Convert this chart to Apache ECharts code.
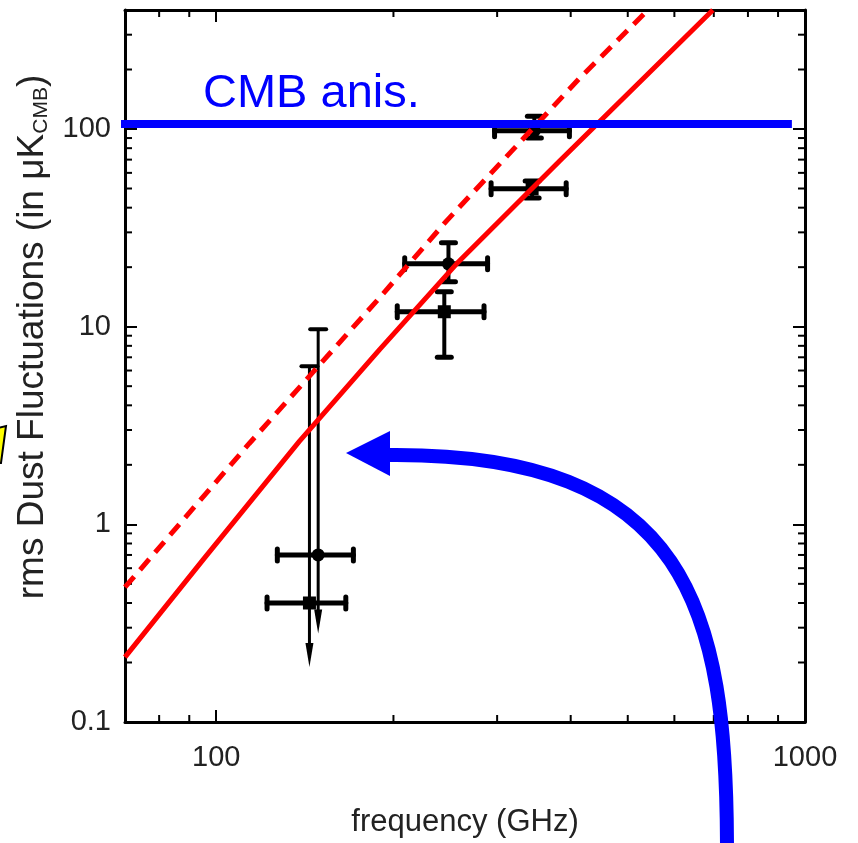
<!DOCTYPE html>
<html>
<head>
<meta charset="utf-8">
<script src="https://cdn.jsdelivr.net/npm/echarts@6.0.0/dist/echarts.min.js"></script>
<style>
  html, body { margin: 0; padding: 0; background: #fff; }
  #chart { width: 858px; height: 843px; }
</style>
</head>
<body>
<div id="chart"></div>
<script>
// axis ranges (GHz and uK_CMB)
const xMin = 70, xMax = 1000;
const yMin = 0.1, yMax = 400;

// labelled ticks and the unlabelled minor ticks
const xTickLabels = [100, 1000];
const yTickLabels = [0.1, 1, 10, 100];
const xMinorTicks = [80, 90, 200, 300, 400, 500, 600, 700, 800, 900];
const yMinorTicks = [0.2, 0.3, 0.4, 0.5, 0.6, 0.7, 0.8, 0.9,
  2, 3, 4, 5, 6, 7, 8, 9, 20, 30, 40, 50, 60, 70, 80, 90, 200, 300];

// dust model, solid and dashed red curves
const solidFreq = [70, 95.4, 138.4, 189.4, 256, 383, 697.5];
const solidRms = [0.213, 0.673, 2.63, 7.65, 20.8, 68.9, 400];
const dashedFreq = [70, 113.8, 189.4, 246.2, 414.4, 541];
const dashedRms = [0.481, 2.565, 14.0, 34.3, 181, 400];

// CMB anisotropy level
const cmbFreq = [68, 950];
const cmbLevel = 106;

// measured points (upper limits get arrows), circle / square markers
const pointFreq = [347, 344, 248, 244, 149, 144];
const pointRms = [98, 49.8, 20.8, 11.9, 0.70, 0.40];
const freqLow = [297, 293, 209, 203, 127, 122];
const freqHigh = [398, 393, 289, 285, 171, 166];
const rmsLow = [90, 44.8, 16.9, 7.0, 0.28, 0.19];
const rmsHigh = [116, 54.6, 26.6, 15.0, 9.7, 6.3];
const isUpperLimit = [0, 0, 0, 0, 1, 1];
const isSquare = [0, 1, 0, 1, 0, 1];

const font = '"Liberation Sans", Arial, Helvetica, sans-serif';

function isLabelled(v, list) {
  return list.some(t => Math.abs(Math.log10(v) - Math.log10(t)) < 1e-6);
}

function renderErrorBar(params, api) {
  const f = api.value(0), v = api.value(1);
  const c = api.coord([f, v]);
  const left = api.coord([api.value(2), v]);
  const right = api.coord([api.value(3), v]);
  const low = api.coord([f, api.value(4)]);
  const high = api.coord([f, api.value(5)]);
  const black = '#000';
  const thick = { stroke: black, lineWidth: 5, lineCap: 'round' };
  const children = [
    { type: 'line', shape: { x1: left[0], y1: c[1], x2: right[0], y2: c[1] }, style: thick },
    { type: 'line', shape: { x1: left[0], y1: c[1] - 6, x2: left[0], y2: c[1] + 6 }, style: thick },
    { type: 'line', shape: { x1: right[0], y1: c[1] - 6, x2: right[0], y2: c[1] + 6 }, style: thick }
  ];
  if (api.value(6) === 1) {
    children.push({ type: 'line', shape: { x1: c[0], y1: high[1], x2: c[0], y2: low[1] - 18 },
      style: { stroke: black, lineWidth: 3 } });
    children.push({ type: 'line', shape: { x1: c[0] - 8, y1: high[1], x2: c[0] + 8, y2: high[1] },
      style: { stroke: black, lineWidth: 4, lineCap: 'round' } });
    children.push({ type: 'polygon',
      shape: { points: [[c[0] - 4, low[1] - 24], [c[0] + 4, low[1] - 24], [c[0], low[1]]] },
      style: { fill: black } });
  } else {
    children.push({ type: 'line', shape: { x1: c[0], y1: high[1], x2: c[0], y2: low[1] },
      style: { stroke: black, lineWidth: 4 } });
    children.push({ type: 'line', shape: { x1: c[0] - 7, y1: high[1], x2: c[0] + 7, y2: high[1] }, style: thick });
    children.push({ type: 'line', shape: { x1: c[0] - 7, y1: low[1], x2: c[0] + 7, y2: low[1] }, style: thick });
  }
  if (api.value(7) === 1) {
    children.push({ type: 'rect', shape: { x: c[0] - 6.5, y: c[1] - 6.5, width: 13, height: 13 }, style: { fill: black } });
  } else {
    children.push({ type: 'circle', shape: { cx: c[0], cy: c[1], r: 6.5 }, style: { fill: black } });
  }
  return { type: 'group', children };
}

function renderXMinor(params, api) {
  const b = api.coord([api.value(0), yMin]);
  const t = api.coord([api.value(0), yMax]);
  const st = { stroke: '#000', lineWidth: 2 };
  return { type: 'group', children: [
    { type: 'line', shape: { x1: b[0], y1: b[1], x2: b[0], y2: b[1] - 7 }, style: st },
    { type: 'line', shape: { x1: t[0], y1: t[1], x2: t[0], y2: t[1] + 7 }, style: st }
  ] };
}

function renderYMinor(params, api) {
  const l = api.coord([xMin, api.value(1)]);
  const r = api.coord([xMax, api.value(1)]);
  const st = { stroke: '#000', lineWidth: 2 };
  return { type: 'group', children: [
    { type: 'line', shape: { x1: l[0], y1: l[1], x2: l[0] + 7, y2: l[1] }, style: st },
    { type: 'line', shape: { x1: r[0], y1: r[1], x2: r[0] - 7, y2: r[1] }, style: st }
  ] };
}

const frameLine = { lineStyle: { color: '#000', width: 3 } };
const majorTick = { inside: true, length: 12, lineStyle: { color: '#000', width: 2 } };

const option = {
  animation: false,
  backgroundColor: '#fff',
  grid: { left: 125, right: 53, top: 10, bottom: 121 },
  xAxis: [
    {
      type: 'log', logBase: 10, min: xMin, max: xMax, position: 'bottom',
      axisLine: frameLine, axisTick: majorTick, splitLine: { show: false },
      axisLabel: {
        margin: 21, fontSize: 29, color: '#222', fontFamily: font,
        showMinLabel: true, showMaxLabel: true,
        formatter: v => isLabelled(v, xTickLabels) ? String(Math.round(v)) : ''
      },
      name: 'frequency (GHz)', nameLocation: 'middle', nameGap: 85,
      nameTextStyle: { fontSize: 31, color: '#222', fontFamily: font }
    },
    {
      type: 'log', logBase: 10, min: xMin, max: xMax, position: 'top',
      axisLine: frameLine, axisTick: majorTick, splitLine: { show: false },
      axisLabel: { show: false }
    }
  ],
  yAxis: [
    {
      type: 'log', logBase: 10, min: yMin, max: yMax, position: 'left',
      axisLine: frameLine, axisTick: majorTick, splitLine: { show: false },
      axisLabel: {
        margin: 14, fontSize: 29, color: '#222', fontFamily: font,
        formatter: v => isLabelled(v, yTickLabels) ? String(+v.toPrecision(3)) : ''
      },
      name: '{t|rms Dust Fluctuations (in μK}{s|CMB}{t|)}',
      nameLocation: 'middle', nameGap: 66,
      nameTextStyle: {
        color: '#222', fontFamily: font, padding: [0, 0, 0, 58],
        rich: {
          t: { fontSize: 37, color: '#222', fontFamily: font },
          s: { fontSize: 21, color: '#222', fontFamily: font, verticalAlign: 'bottom', lineHeight: 21 }
        }
      }
    },
    {
      type: 'log', logBase: 10, min: yMin, max: yMax, position: 'right',
      axisLine: frameLine, axisTick: majorTick, splitLine: { show: false },
      axisLabel: { show: false }
    }
  ],
  series: [
    {
      type: 'custom', name: 'x minor ticks', renderItem: renderXMinor,
      data: xMinorTicks.map(v => [v, yMin]), silent: true, z: 1
    },
    {
      type: 'custom', name: 'y minor ticks', renderItem: renderYMinor,
      data: yMinorTicks.map(v => [xMin, v]), silent: true, z: 1
    },
    {
      type: 'custom', name: 'measurements', renderItem: renderErrorBar,
      data: pointFreq.map((f, i) => [f, pointRms[i], freqLow[i], freqHigh[i],
        rmsLow[i], rmsHigh[i], isUpperLimit[i], isSquare[i]]),
      encode: { x: 0, y: 1 }, z: 2
    },
    {
      type: 'line', name: 'dust model', symbol: 'none', z: 3,
      data: solidFreq.map((f, i) => [f, solidRms[i]]),
      lineStyle: { color: '#ff0000', width: 5 }
    },
    {
      type: 'line', name: 'dust model (high)', symbol: 'none', z: 3,
      data: dashedFreq.map((f, i) => [f, dashedRms[i]]),
      lineStyle: { color: '#ff0000', width: 5, type: [14, 9] }
    },
    {
      type: 'line', name: 'CMB anis.', symbol: 'none', z: 4, clip: false,
      data: cmbFreq.map(f => [f, cmbLevel]),
      lineStyle: { color: '#0000ff', width: 8, cap: 'butt' }
    }
  ],
  graphic: [
    {
      type: 'text', left: 203, top: 71, z: 10,
      style: { text: 'CMB anis.', fontSize: 47, fill: '#0000ff', fontFamily: font }
    },
    {
      type: 'bezierCurve', z: 10,
      shape: { x1: 727, y1: 850, cpx1: 727, cpy1: 610, cpx2: 690, cpy2: 452, x2: 388, y2: 455 },
      style: { stroke: '#0000ff', lineWidth: 14, fill: null }
    },
    {
      type: 'polygon', z: 11,
      shape: { points: [[346, 453], [390, 431], [390, 476]] },
      style: { fill: '#0000ff' }
    },
    {
      type: 'polygon', z: 11,
      shape: { points: [[-2, 428], [6, 426], [1, 463], [-2, 463]] },
      style: { fill: '#ffff00', stroke: '#000', lineWidth: 2 }
    }
  ]
};

const chart = echarts.init(document.getElementById('chart'));
chart.setOption(option);
</script>
</body>
</html>
